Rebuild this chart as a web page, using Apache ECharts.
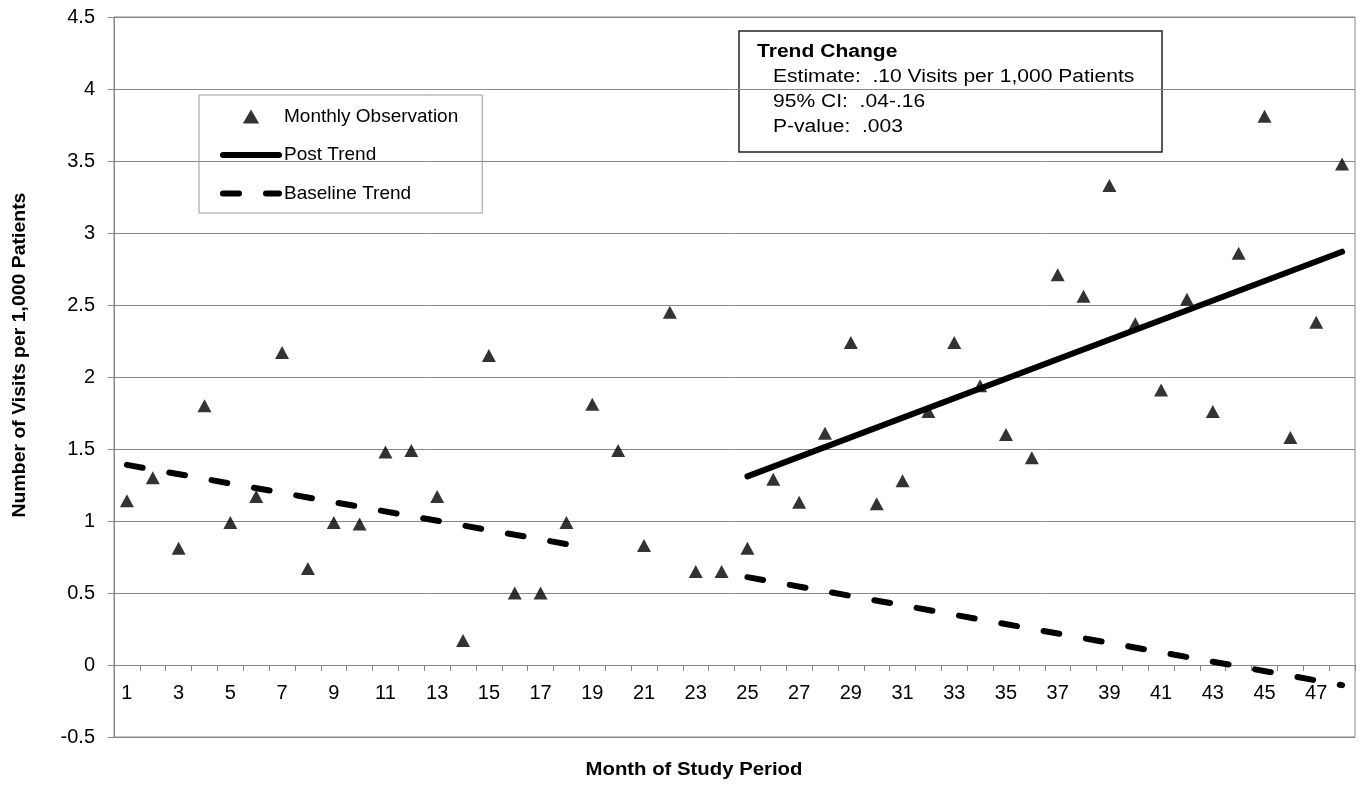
<!DOCTYPE html>
<html>
<head>
<meta charset="utf-8">
<script src="https://cdn.jsdelivr.net/npm/echarts@6/dist/echarts.min.js"></script>
<style>
  html, body { margin: 0; padding: 0; background: #fff; }
  #chart { width: 1363px; height: 787px; }
</style>
</head>
<body>
<div id="chart"></div>
<script>
const months = ['1','2','3','4','5','6','7','8','9','10','11','12','13','14','15','16',
  '17','18','19','20','21','22','23','24','25','26','27','28','29','30','31','32',
  '33','34','35','36','37','38','39','40','41','42','43','44','45','46','47','48'];

// monthly visits per 1,000 patients
const observed = [1.14, 1.30, 0.81, 1.80, 0.99, 1.17, 2.17, 0.67, 0.99, 0.98, 1.48, 1.49,
  1.17, 0.17, 2.15, 0.50, 0.50, 0.99, 1.81, 1.49, 0.83, 2.45, 0.65, 0.65,
  0.81, 1.29, 1.13, 1.61, 2.24, 1.12, 1.28, 1.76, 2.24, 1.94, 1.60, 1.44,
  2.71, 2.56, 3.33, 2.37, 1.91, 2.54, 1.76, 2.86, 3.81, 1.58, 2.38, 3.48];

// fitted trend end points [month, value]
const baselinePre = [['1', 1.39], ['18', 0.84]];
const baselineProjected = [['25', 0.61], ['48', -0.14]];
const postTrend = [['25', 1.31], ['48', 2.87]];

const trendNote = {
  title: 'Trend Change',
  lines: ['Estimate:  .10 Visits per 1,000 Patients', '95% CI:  .04-.16', 'P-value:  .003']
};

const chart = echarts.init(document.getElementById('chart'));
const font = '"Liberation Sans", Arial, sans-serif';
const dash = [16, 27];
const dashStyle = { color: '#000', width: 6, type: dash, cap: 'round' };

const option = {
  animation: false,
  textStyle: { fontFamily: font },
  grid: {
    left: 114, right: 8, top: 17, bottom: 50,
    outerBoundsMode: 'none',
    containLabel: false,
    show: true, borderColor: '#888', borderWidth: 1
  },
  legend: {
    orient: 'vertical',
    left: 199, top: 95,
    itemWidth: 56, itemHeight: 14, itemGap: 19.5,
    padding: [12, 24, 10, 21],
    borderColor: '#999', borderWidth: 1,
    textStyle: { fontSize: 19, color: '#000', fontFamily: font },
    data: [
      { name: 'Monthly Observation', icon: 'path://M0,12L7,0L14,12Z', itemStyle: { color: '#000' } },
      { name: 'Post Trend', itemStyle: { opacity: 0 },
        lineStyle: { color: '#000', width: 6, cap: 'round', type: 'solid' } },
      { name: 'Baseline Trend', itemStyle: { opacity: 0 },
        lineStyle: { color: '#000', width: 6, cap: 'round', type: dash } }
    ]
  },
  xAxis: {
    type: 'category',
    data: months,
    boundaryGap: true,
    offset: -72,
    axisLine: { onZero: false, lineStyle: { color: '#888', width: 1 } },
    axisTick: { show: true, interval: 0, length: 6, lineStyle: { color: '#888' } },
    axisLabel: { interval: 1, fontSize: 20, color: '#000', margin: 18, fontFamily: font },
    splitLine: { show: false }
  },
  yAxis: {
    type: 'value',
    min: -0.5, max: 4.5, interval: 0.5,
    axisLine: { show: true, lineStyle: { color: '#888', width: 1 } },
    axisTick: { show: true, length: 6, lineStyle: { color: '#888' } },
    axisLabel: { fontSize: 20, color: '#000', margin: 19, fontFamily: font },
    splitLine: { show: true, lineStyle: { color: '#888', width: 1 } }
  },
  graphic: [
    {
      type: 'text', x: 694, y: 770, scaleX: 1.13,
      style: { text: 'Month of Study Period', font: 'bold 18px ' + font, fill: '#000',
        textAlign: 'center', textVerticalAlign: 'middle' }
    },
    {
      type: 'text', x: 20, y: 355, rotation: Math.PI / 2, scaleX: 1.08,
      style: { text: 'Number of Visits per 1,000 Patients', font: 'bold 18px ' + font, fill: '#000',
        textAlign: 'center', textVerticalAlign: 'middle' }
    },
    {
      type: 'group', x: 739, y: 31,
      children: [
        { type: 'rect', shape: { x: 0, y: 0, width: 423, height: 121 },
          style: { fill: '#fff', stroke: '#222', lineWidth: 1.5 } },
        { type: 'text', x: 18, y: 21, scaleX: 1.17,
          style: { text: trendNote.title, font: 'bold 18px ' + font, fill: '#000', textVerticalAlign: 'middle' } },
        ...trendNote.lines.map((t, i) => ({
          type: 'text', x: 34, y: 46 + i * 25, scaleX: 1.17,
          style: { text: t, font: '18px ' + font, fill: '#000', textVerticalAlign: 'middle' }
        }))
      ]
    }
  ],
  series: [
    {
      name: 'Monthly Observation',
      type: 'scatter',
      symbol: 'triangle',
      symbolSize: [14, 13],
      itemStyle: { color: '#000' },
      data: observed
    },
    {
      name: 'Post Trend',
      type: 'line',
      symbol: 'none',
      lineStyle: { color: '#000', width: 6, cap: 'round' },
      itemStyle: { color: '#000' },
      data: postTrend,
      z: 3
    },
    {
      name: 'Baseline Trend',
      type: 'line',
      symbol: 'none',
      lineStyle: dashStyle,
      itemStyle: { color: '#000' },
      data: baselinePre,
      z: 3
    },
    {
      name: 'Baseline Trend',
      type: 'line',
      symbol: 'none',
      lineStyle: dashStyle,
      itemStyle: { color: '#000' },
      data: baselineProjected,
      z: 3
    }
  ]
};

chart.setOption(option);
window.addEventListener('resize', () => chart.resize());
</script>
</body>
</html>
